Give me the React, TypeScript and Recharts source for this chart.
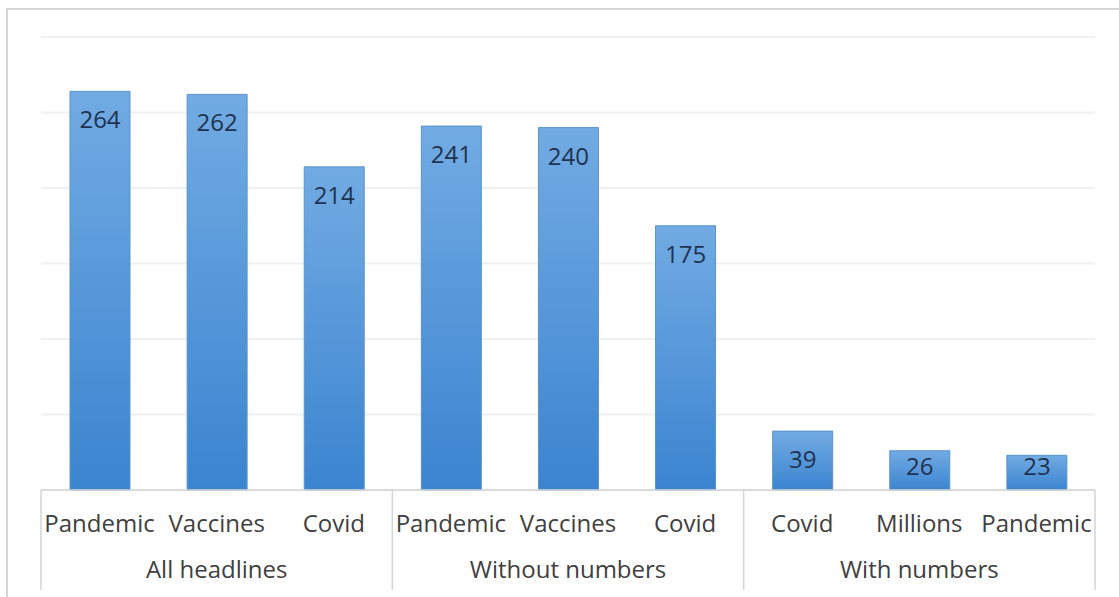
import { BarChart, Bar, XAxis, YAxis, CartesianGrid, LabelList } from "recharts";

const groups = ["All headlines", "Without numbers", "With numbers"];
const words = [
  "Pandemic", "Vaccines", "Covid",
  "Pandemic", "Vaccines", "Covid",
  "Covid", "Millions", "Pandemic",
];
const counts = [264, 262, 214, 241, 240, 175, 39, 26, 23];
const yTicks = [0, 50, 100, 150, 200, 250, 300];

const data = words.map((w, i) => ({
  key: `${i}`,
  word: w,
  group: groups[Math.floor(i / 3)],
  count: counts[i],
}));

const W = 1119;
const H = 597;
const AXIS_H = 107;
const M = { top: 37, right: 24, bottom: 0, left: 41 };
const band = (W - M.left - M.right) / data.length;
const FONT = "'Open Sans', sans-serif";

const CatTick = (props: any) => {
  const { x, y, payload } = props;
  const i = payload.index;
  const row = data[i];
  return (
    <g>
      <text x={x} y={y + 34} textAnchor="middle" fontFamily={FONT} fontSize={24} fill="#404040">
        {row.word}
      </text>
      {i % 3 === 1 && (
        <text x={x} y={y + 80} textAnchor="middle" fontFamily={FONT} fontSize={24} fill="#404040">
          {row.group}
        </text>
      )}
      {i % 3 === 0 && (
        <line x1={x - band / 2} x2={x - band / 2} y1={y - 8} y2={y + 92} stroke="#d4d4d4" strokeWidth={1.5} />
      )}
      {i === data.length - 1 && (
        <line x1={x + band / 2} x2={x + band / 2} y1={y - 8} y2={y + 92} stroke="#d4d4d4" strokeWidth={1.5} />
      )}
    </g>
  );
};

const InsideLabel = (props: any) => {
  const { x, y, width, height, value } = props;
  const center = Math.min(y + 29, y + height - 23);
  return (
    <text x={x + width / 2} y={center + 8} textAnchor="middle" fontFamily={FONT} fontSize={24} fill="#1f3350">
      {value}
    </text>
  );
};

export default function App() {
  return (
    <div style={{ position: "absolute", left: 0, top: 0, width: W, height: H, overflow: "hidden", background: "#fff" }}>
      <div
        style={{
          position: "absolute",
          left: 6,
          top: 8,
          width: W + 20,
          height: H + 20,
          borderLeft: "2px solid #d6d6d6",
          borderTop: "2px solid #d6d6d6",
        }}
      />
      <div style={{ position: "absolute", left: 0, top: 0 }}>
        <BarChart width={W} height={H} data={data} margin={M}>
          <defs>
            <linearGradient id="barFill" x1="0" y1="0" x2="0" y2="1">
              <stop offset="0%" stopColor="#72abe3" />
              <stop offset="100%" stopColor="#3b84d0" />
            </linearGradient>
          </defs>
          <CartesianGrid vertical={false} stroke="#f0f0f0" strokeWidth={2} />
          <YAxis hide domain={[0, 300]} ticks={yTicks} />
          <XAxis
            dataKey="key"
            axisLine={{ stroke: "#d4d4d4", strokeWidth: 1.5 }}
            tickLine={false}
            interval={0}
            height={AXIS_H}
            tick={<CatTick />}
          />
          <Bar dataKey="count" barSize={60} fill="url(#barFill)" stroke="#5a93cc" strokeWidth={1} isAnimationActive={false}>
            <LabelList dataKey="count" content={<InsideLabel />} />
          </Bar>
        </BarChart>
      </div>
    </div>
  );
}
